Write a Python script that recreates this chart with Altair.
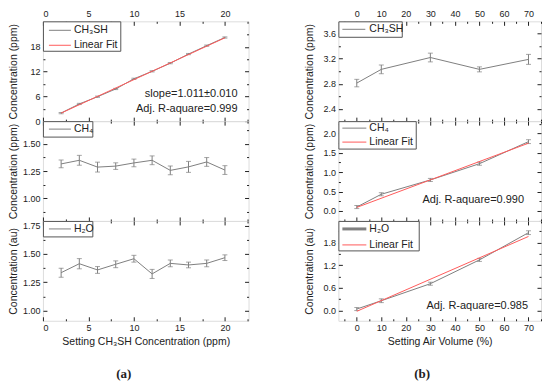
import altair as alt
import pandas as pd

# ---------------- data: panel (a) ----------------
a_x = [2, 4, 6, 8, 10, 12, 14, 16, 18, 20]
a_ch3sh = [1.97, 4.17, 5.92, 7.80, 10.26, 12.08, 14.05, 16.26, 18.30, 20.28]
a_ch3sh_err = [0.15, 0.15, 0.15, 0.15, 0.15, 0.15, 0.15, 0.15, 0.15, 0.15]
a_fit_x = [2, 20]
a_fit_y = [1.95, 20.2]
a_ch4 = [1.315, 1.348, 1.286, 1.295, 1.324, 1.348, 1.256, 1.288, 1.333, 1.259]
a_ch4_err = [0.035, 0.045, 0.045, 0.03, 0.035, 0.04, 0.04, 0.05, 0.04, 0.04]
a_h2o = [1.334, 1.413, 1.358, 1.408, 1.457, 1.323, 1.416, 1.402, 1.416, 1.466]
a_h2o_err = [0.04, 0.045, 0.03, 0.03, 0.03, 0.04, 0.03, 0.025, 0.03, 0.025]

# ---------------- data: panel (b) ----------------
b_x = [0, 10, 30, 50, 70]
b_ch3sh = [2.81, 3.03, 3.22, 3.03, 3.19]
b_ch3sh_err = [0.06, 0.07, 0.07, 0.04, 0.08]
b_ch4 = [0.10, 0.43, 0.80, 1.22, 1.79]
b_ch4_err = [0.04, 0.04, 0.04, 0.04, 0.05]
b_ch4_fit_x = [0, 70]
b_ch4_fit_y = [0.09, 1.75]
b_h2o = [0.04, 0.26, 0.71, 1.34, 2.06]
b_h2o_err = [0.04, 0.05, 0.04, 0.04, 0.05]
b_h2o_fit_x = [0, 70]
b_h2o_fit_y = [-0.02, 1.96]

# ---------------- tick labels ----------------
a_x_major = [0, 5, 10, 15, 20]
a_x_minor = [2.5, 7.5, 12.5, 17.5, 22.5]
b_x_major = [0, 10, 20, 30, 40, 50, 60, 70]
b_x_minor = [-5, 5, 15, 25, 35, 45, 55, 65, 75]
a_top_y_major = [0, 6, 12, 18]
a_top_y_minor = [3, 9, 15, 21]
a_mid_y_major = [1.00, 1.25, 1.50]
a_mid_y_minor = [0.875, 1.125, 1.375, 1.625]
a_bot_y_major = [1.00, 1.25, 1.50, 1.75]
a_bot_y_minor = [1.125, 1.375, 1.625]
b_top_y_major = [2.4, 2.8, 3.2, 3.6]
b_top_y_minor = [2.6, 3.0, 3.4]
b_mid_y_major = [0.0, 0.5, 1.0, 1.5, 2.0]
b_mid_y_minor = [-0.25, 0.25, 0.75, 1.25, 1.75, 2.25]
b_bot_y_major = [0.0, 0.6, 1.2, 1.8]
b_bot_y_minor = [0.3, 0.9, 1.5, 2.1]

FONT = "Liberation Sans"
INK = "#222222"
GRAY = "#808080"
RED = "#ff5a5a"


def mk_axis(orient, values, labels, fmt, minor=False, title=None, title_x=None, title_y=None):
    size = 2 if minor else 4
    kw = dict(orient=orient, values=values, labels=labels, offset=-size, tickSize=size,
              domain=False, grid=False, tickColor=INK, tickWidth=1,
              labelFont=FONT, labelFontSize=9, labelColor=INK, labelPadding=3,
              format=fmt, title=title)
    if title is not None:
        kw.update(titleFont=FONT, titleFontSize=10.5, titleFontWeight="normal",
                  titleColor=INK, titlePadding=4)
        if title_x is not None:
            kw.update(titleX=title_x, titleY=title_y)
    return alt.Axis(**kw)


def panel(x, y, err, w, h, xdom, ydom, xmaj, xmin, ymaj, ymin, yfmt, ytitle,
          top_labels, bottom_labels, xtitle=None, fit=None, legend=None,
          notes=(), caption=None):
    df = pd.DataFrame({"x": x, "y": y})
    df["lo"] = [v - e for v, e in zip(y, err)]
    df["hi"] = [v + e for v, e in zip(y, err)]
    xs = alt.Scale(domain=xdom, nice=False, zero=False)
    ys = alt.Scale(domain=ydom, nice=False, zero=False)

    layers = []
    layers.append(alt.Chart(df).mark_line(color=GRAY, strokeWidth=1).encode(
        x=alt.X("x:Q", scale=xs, axis=None), y=alt.Y("y:Q", scale=ys, axis=None)))
    layers.append(alt.Chart(df).mark_errorbar(ticks=True, size=5, thickness=1, color=GRAY).encode(
        x=alt.X("x:Q", scale=xs, axis=None), y=alt.Y("lo:Q", scale=ys, axis=None), y2="hi:Q"))
    if fit is not None:
        fdf = pd.DataFrame({"x": fit[0], "y": fit[1]})
        layers.append(alt.Chart(fdf).mark_line(color=RED, strokeWidth=1).encode(
            x=alt.X("x:Q", scale=xs, axis=None), y=alt.Y("y:Q", scale=ys, axis=None)))

    # axis carriers (inward ticks on all four sides)
    carriers = [
        (mk_axis("bottom", xmaj, bottom_labels, "d",
                 title=xtitle), mk_axis("left", ymaj, True, yfmt, title=ytitle,
                                        title_x=-28, title_y=h / 2)),
        (mk_axis("top", xmaj, top_labels, "d"), mk_axis("right", ymaj, False, yfmt)),
        (mk_axis("bottom", xmin, False, "d", minor=True), mk_axis("left", ymin, False, yfmt, minor=True)),
        (mk_axis("top", xmin, False, "d", minor=True), mk_axis("right", ymin, False, yfmt, minor=True)),
    ]
    for xa, ya in carriers:
        layers.append(alt.Chart(df).mark_point(opacity=0).encode(
            x=alt.X("x:Q", scale=xs, axis=xa), y=alt.Y("y:Q", scale=ys, axis=ya)))

    one = pd.DataFrame({"k": [0]})
    if legend is not None:
        bw, bh, lx1, lx2, tx, entries = legend
        layers.append(alt.Chart(one).mark_rect(fill="white", stroke="#555555", strokeWidth=1).encode(
            x=alt.value(0.5), x2=alt.value(bw), y=alt.value(0.5), y2=alt.value(bh)))
        for label, color, ly, sw in entries:
            layers.append(alt.Chart(one).mark_rule(color=color, strokeWidth=sw).encode(
                x=alt.value(lx1), x2=alt.value(lx2), y=alt.value(ly)))
            layers.append(alt.Chart(one).mark_text(
                align="left", baseline="middle", font=FONT, fontSize=10.5, color=INK).encode(
                x=alt.value(tx), y=alt.value(ly), text=alt.value(label)))
    for txt, nx, ny in notes:
        layers.append(alt.Chart(one).mark_text(
            align="right", baseline="middle", font=FONT, fontSize=11, color=INK).encode(
            x=alt.value(nx), y=alt.value(ny), text=alt.value(txt)))
    if caption is not None:
        ctext, cx, cy = caption
        layers.append(alt.Chart(one).mark_text(
            align="center", baseline="middle", font="Liberation Serif", fontSize=13,
            fontWeight="bold", color=INK).encode(
            x=alt.value(cx), y=alt.value(cy), text=alt.value(ctext)))

    return alt.layer(*layers).resolve_axis(x="independent", y="independent").properties(
        width=w, height=h)


WA, WB, H = 206, 203, 100
A_XD = [0, 22.6]
B_XD = [-7.5, 75.1]

a_top = panel(a_x, a_ch3sh, a_ch3sh_err, WA, H, A_XD, [0, 24.2], a_x_major, a_x_minor,
              a_top_y_major, a_top_y_minor, "d", "Concentration (ppm)", True, False,
              fit=(a_fit_x, a_fit_y),
              legend=(78, 30, 6, 28, 31, [("CH\u2083SH", GRAY, 9, 1), ("Linear Fit", RED, 24, 1)]),
              notes=[("slope=1.011\u00b10.010", 195, 73), ("Adj. R-aquare=0.999", 195, 88)])
a_mid = panel(a_x, a_ch4, a_ch4_err, WA, H, A_XD, [0.795, 1.705], a_x_major, a_x_minor,
              a_mid_y_major, a_mid_y_minor, ".2f", "Concentration (ppm)", False, False,
              legend=(50, 16, 6, 28, 31, [("CH\u2084", GRAY, 8, 1)]))
a_bot = panel(a_x, a_h2o, a_h2o_err, WA, H, A_XD, [0.91, 1.79], a_x_major, a_x_minor,
              a_bot_y_major, a_bot_y_minor, ".2f", "Concentration (au)", False, True,
              xtitle="Setting CH\u2083SH Concentration (ppm)",
              legend=(50, 16, 6, 28, 31, [("H\u2082O", GRAY, 8, 1)]),
              caption=("(a)", 81, 153))

b_top = panel(b_x, b_ch3sh, b_ch3sh_err, WB, H, B_XD, [2.2, 3.8], b_x_major, b_x_minor,
              b_top_y_major, b_top_y_minor, ".1f", "Concentration (ppm)", True, False,
              legend=(64, 16, 4, 27, 31, [("CH\u2083SH", GRAY, 8, 1)]))
b_mid = panel(b_x, b_ch4, b_ch4_err, WB, H, B_XD, [-0.26, 2.32], b_x_major, b_x_minor,
              b_mid_y_major, b_mid_y_minor, ".1f", "Concentration (ppm)", False, False,
              fit=(b_ch4_fit_x, b_ch4_fit_y),
              legend=(78, 28, 4, 28, 31, [("CH\u2084", GRAY, 7, 1), ("Linear Fit", RED, 21, 1)]),
              notes=[("Adj. R-aquare=0.990", 186, 79)])
b_bot = panel(b_x, b_h2o, b_h2o_err, WB, H, B_XD, [-0.27, 2.37], b_x_major, b_x_minor,
              b_bot_y_major, b_bot_y_minor, ".1f", "Concentration (au)", False, True,
              xtitle="Setting Air Volume (%)",
              fit=(b_h2o_fit_x, b_h2o_fit_y),
              legend=(81, 30, 4, 28, 31, [("H\u2082O", GRAY, 8, 3), ("Linear Fit", RED, 24, 1)]),
              notes=[("Adj. R-aquare=0.985", 190, 85)],
              caption=("(b)", 84, 153))

left = alt.vconcat(a_top, a_mid, a_bot, spacing=0, bounds="flush")
right = alt.vconcat(b_top, b_mid, b_bot, spacing=0, bounds="flush")

chart = alt.hconcat(left, right, spacing=54).properties(
    padding={"left": 0, "top": 0, "right": 0, "bottom": 0}
).configure_view(stroke=INK, strokeWidth=1).configure(background="white")

chart.save("out.html", embed_options={"renderer": "svg", "actions": False})
